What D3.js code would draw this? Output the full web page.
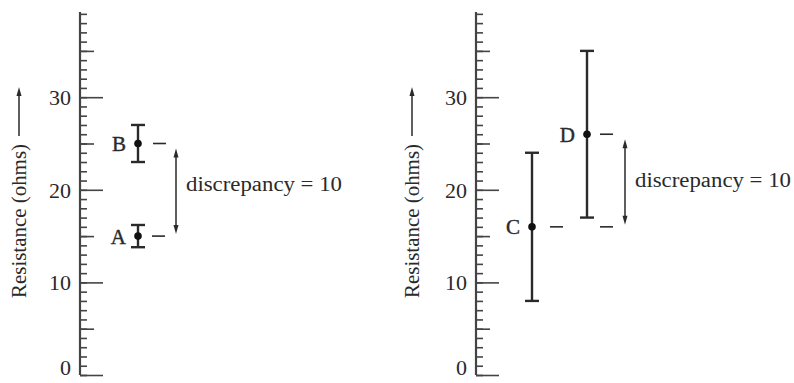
<!DOCTYPE html>
<html>
<head>
<meta charset="utf-8">
<script src="https://cdn.jsdelivr.net/npm/d3@7"></script>
<style>
  body { margin: 0; background: #fff; }
  text { font-family: "Liberation Serif", "DejaVu Serif", serif; fill: #2a2a2a; }
</style>
</head>
<body>
<div id="chart"></div>
<script>
// Chart data
const minorTicks = d3.range(0, 40);
const midTicks = [5, 15, 25, 35];
const tickLabels = [0, 10, 20, 30];
const leftNames = ["A", "B"];
const leftValues = [15, 25];
const leftErrors = [1.2, 2];
const rightNames = ["C", "D"];
const rightValues = [16, 26];
const rightErrors = [8, 9];
const axisTitle = "Resistance (ohms)";
const noteText = "discrepancy = 10";

const W = 794, H = 383;
const ink = "#2a2a2a";

const svg = d3.select("#chart")
  .append("svg")
  .attr("width", W)
  .attr("height", H);

const y = d3.scaleLinear().domain([0, 39.2]).range([375, 12]);

function drawPanel(opts) {
  const g = svg.append("g").attr("transform", `translate(${opts.axisX}, 0)`);

  // minor, mid and major ticks drawn inward
  g.append("g")
    .call(d3.axisRight(y).tickValues(minorTicks).tickSize(7).tickFormat(""))
    .call(a => a.select(".domain").remove());
  g.append("g")
    .call(d3.axisRight(y).tickValues(midTicks).tickSize(14).tickFormat(""))
    .call(a => a.select(".domain").remove());
  g.append("g")
    .call(d3.axisRight(y).tickValues(tickLabels).tickSize(23).tickFormat(""))
    .call(a => a.select(".domain").remove());
  g.selectAll(".tick line").attr("stroke", "#444").attr("stroke-width", 1.6);

  g.append("line")
    .attr("x1", 0).attr("x2", 0)
    .attr("y1", y(39.2)).attr("y2", y(0))
    .attr("stroke", "#444").attr("stroke-width", 2.2);

  // tick labels (the 0 is nudged up so it stays inside the frame)
  g.selectAll(".lab")
    .data(tickLabels)
    .join("text")
    .attr("x", -9)
    .attr("y", d => d === 0 ? y(d) - 8 : y(d))
    .attr("dy", "0.36em")
    .attr("text-anchor", "end")
    .attr("font-size", 22)
    .text(d => d);

  // axis title with arrow
  const tx = opts.titleX - opts.axisX;
  g.append("text")
    .attr("transform", `translate(${tx + 7}, 298) rotate(-90)`)
    .attr("font-size", 21)
    .attr("textLength", 154)
    .attr("lengthAdjust", "spacingAndGlyphs")
    .text(axisTitle);
  g.append("line")
    .attr("x1", tx).attr("x2", tx)
    .attr("y1", 136).attr("y2", 94)
    .attr("stroke", ink).attr("stroke-width", 1.5);
  g.append("path")
    .attr("d", `M${tx - 2.5},${96} L${tx},${87} L${tx + 2.5},${96} Z`)
    .attr("fill", ink);

  // error bars
  const pts = opts.names.map((n, i) => ({ name: n, v: opts.values[i], e: opts.errors[i], x: opts.xs[i] }));
  const bars = svg.append("g");
  bars.selectAll(".stem")
    .data(pts)
    .join("line")
    .attr("x1", d => d.x).attr("x2", d => d.x)
    .attr("y1", d => y(d.v + d.e)).attr("y2", d => y(d.v - d.e))
    .attr("stroke", ink).attr("stroke-width", 2.4);
  [1, -1].forEach(s => {
    bars.selectAll(".cap" + s)
      .data(pts)
      .join("line")
      .attr("x1", d => d.x - 7).attr("x2", d => d.x + 7)
      .attr("y1", d => y(d.v + s * d.e)).attr("y2", d => y(d.v + s * d.e))
      .attr("stroke", ink).attr("stroke-width", 2.4);
  });
  bars.selectAll("circle")
    .data(pts)
    .join("circle")
    .attr("cx", d => d.x).attr("cy", d => y(d.v))
    .attr("r", 3.8).attr("fill", "#111");
  bars.selectAll(".name")
    .data(pts)
    .join("text")
    .attr("x", d => d.x - 12)
    .attr("y", d => y(d.v))
    .attr("dy", "0.36em")
    .attr("text-anchor", "end")
    .attr("font-size", 21)
    .attr("stroke", ink).attr("stroke-width", 0.4)
    .text(d => d.name);

  // dashed guides
  opts.dashes.forEach(dd => {
    bars.append("line")
      .attr("x1", dd.x).attr("x2", dd.x + 13)
      .attr("y1", y(dd.v)).attr("y2", y(dd.v))
      .attr("stroke", ink).attr("stroke-width", 1.6);
  });

  // discrepancy arrow
  const lo = opts.values[0], hi = opts.values[1];
  const ax = opts.arrowX;
  bars.append("line")
    .attr("x1", ax).attr("x2", ax)
    .attr("y1", y(hi) + 9).attr("y2", y(lo) - 6)
    .attr("stroke", ink).attr("stroke-width", 1.5);
  bars.append("path")
    .attr("d", `M${ax - 2.5},${y(hi) + 14} L${ax},${y(hi) + 5} L${ax + 2.5},${y(hi) + 14} Z`)
    .attr("fill", ink);
  bars.append("path")
    .attr("d", `M${ax - 2.5},${y(lo) - 11} L${ax},${y(lo) - 2} L${ax + 2.5},${y(lo) - 11} Z`)
    .attr("fill", ink);
  bars.append("text")
    .attr("x", ax + 10)
    .attr("y", opts.noteY)
    .attr("font-size", 20)
    .attr("textLength", 156)
    .attr("lengthAdjust", "spacingAndGlyphs")
    .text(noteText);
}

drawPanel({
  axisX: 80, titleX: 19,
  names: leftNames, values: leftValues, errors: leftErrors, xs: [138, 138],
  dashes: [{ x: 152, v: leftValues[0] }, { x: 153, v: leftValues[1] }],
  arrowX: 176, noteY: 191
});

drawPanel({
  axisX: 476, titleX: 412,
  names: rightNames, values: rightValues, errors: rightErrors, xs: [532, 587],
  dashes: [{ x: 550, v: rightValues[0] }, { x: 600, v: rightValues[0] }, { x: 600, v: rightValues[1] }],
  arrowX: 625, noteY: 187
});
</script>
</body>
</html>
